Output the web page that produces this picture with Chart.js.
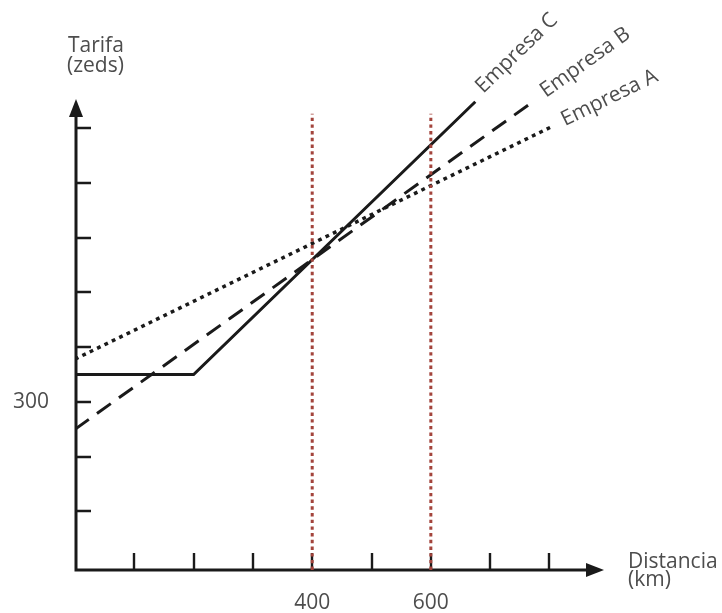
<!DOCTYPE html>
<html>
<head>
<meta charset="utf-8">
<script src="https://cdn.jsdelivr.net/npm/chart.js@4.4.1/dist/chart.umd.min.js"></script>
<style>
html,body{margin:0;padding:0;background:#fff;}
#wrap{width:722px;height:613px;position:relative;}
</style>
</head>
<body>
<div id="wrap"><canvas id="c"></canvas></div>
<script>
// ---- data ----
const companyNames = ['Empresa A', 'Empresa B', 'Empresa C'];
const distA = [0, 801];
const fareA = [378, 801];
const distB = [0, 776];
const fareB = [250, 851];
const distC = [0, 200, 675];
const fareC = [350, 350, 848];
const markerDistances = [400, 600];
const markerTop = 826;
const xTickValues = [100, 200, 300, 400, 500, 600, 700, 800];
const yTickValues = [100, 200, 300, 400, 500, 600, 700, 800];
const xTickLabels = [400, 600];
const yTickLabels = [300];
const xTitle = ['Distancia', '(km)'];
const yTitle = ['Tarifa', '(zeds)'];

// ---- scale extents ----
const X_MIN = 0, X_MAX = 892, Y_MIN = -7, Y_MAX = 853;

const FONT = '"Open Sans", "DejaVu Sans", sans-serif';
const FSIZE = 21;
const TEXT = '#4d4d4d';
const INK = '#1a1a1a';
const RED = '#a3443c';

const pts = (xs, ys) => xs.map((v, i) => ({x: v, y: ys[i]}));

const markerSets = markerDistances.map(d => ({
  label: 'marker ' + d,
  data: [{x: d, y: Y_MIN}, {x: d, y: markerTop}],
  borderColor: RED, borderWidth: 3, borderDash: [3.4, 3.3],
  pointRadius: 0, fill: false, showLine: true, borderCapStyle: 'butt'
}));

const seriesSets = [
  {label: companyNames[0], data: pts(distA, fareA), borderColor: INK, borderWidth: 3.5,
   borderDash: [3.8, 4.4], labelGap: 14, labelOff: 5.5},
  {label: companyNames[1], data: pts(distB, fareB), borderColor: INK, borderWidth: 3,
   borderDash: [17, 10], labelGap: 10, labelOff: 4.6},
  {label: companyNames[2], data: pts(distC, fareC), borderColor: INK, borderWidth: 3,
   borderDash: [], labelGap: 11, labelOff: 0}
].map(s => Object.assign({pointRadius: 0, fill: false, showLine: true, tension: 0,
   borderCapStyle: 'butt', borderJoinStyle: 'miter'}, s));

const axesPlugin = {
  id: 'axesPlugin',
  beforeDatasetsDraw(chart) {
    const {ctx, scales: {x, y}} = chart;
    const x0 = x.getPixelForValue(X_MIN) + 1;
    const y0 = y.getPixelForValue(Y_MIN);
    const xEnd = x.getPixelForValue(X_MAX);
    const yEnd = y.getPixelForValue(Y_MAX);
    ctx.save();
    ctx.strokeStyle = INK; ctx.fillStyle = INK;
    ctx.lineWidth = 3; ctx.lineCap = 'butt';
    ctx.beginPath();
    ctx.moveTo(x0, y0 + 1.5); ctx.lineTo(x0, yEnd + 14);
    ctx.moveTo(x0 - 1.5, y0); ctx.lineTo(xEnd - 14, y0);
    ctx.stroke();
    // arrows
    ctx.beginPath();
    ctx.moveTo(x0, yEnd); ctx.lineTo(x0 - 7, yEnd + 18); ctx.lineTo(x0 + 7, yEnd + 18); ctx.closePath();
    ctx.fill();
    ctx.beginPath();
    ctx.moveTo(xEnd, y0); ctx.lineTo(xEnd - 18, y0 - 7); ctx.lineTo(xEnd - 18, y0 + 7); ctx.closePath();
    ctx.fill();
    // ticks
    ctx.lineWidth = 2.4;
    ctx.beginPath();
    xTickValues.forEach(v => { const p = Math.round(x.getPixelForValue(v)); ctx.moveTo(p, y0); ctx.lineTo(p, y0 - 17); });
    yTickValues.forEach(v => { const p = Math.round(y.getPixelForValue(v)); ctx.moveTo(x0, p); ctx.lineTo(x0 + 15, p); });
    ctx.stroke();
    ctx.restore();
  },
  afterDatasetsDraw(chart) {
    const {ctx, scales: {x, y}} = chart;
    ctx.save();
    ctx.fillStyle = TEXT;
    ctx.font = FSIZE + 'px ' + FONT;
    ctx.textAlign = 'left'; ctx.textBaseline = 'alphabetic';
    ctx.fillText(yTitle[0], 68, 52);
    ctx.fillText(yTitle[1], 67, 72);
    ctx.fillText(xTitle[0], 628, 568);
    ctx.fillText(xTitle[1], 628, 586);
    // series labels along the direction of each line's last segment
    chart.data.datasets.forEach((ds) => {
      if (ds.labelGap === undefined) return;
      const n = ds.data.length;
      const p1 = {x: x.getPixelForValue(ds.data[n - 2].x), y: y.getPixelForValue(ds.data[n - 2].y)};
      const p2 = {x: x.getPixelForValue(ds.data[n - 1].x), y: y.getPixelForValue(ds.data[n - 1].y)};
      const ang = Math.atan2(p2.y - p1.y, p2.x - p1.x);
      const dx = Math.cos(ang), dy = Math.sin(ang);
      const nx = -dy, ny = dx;
      const ax = p2.x + dx * ds.labelGap + nx * ds.labelOff;
      const ay = p2.y + dy * ds.labelGap + ny * ds.labelOff;
      ctx.save();
      ctx.translate(ax, ay);
      ctx.rotate(ang);
      ctx.fillText(ds.label, 0, 0);
      ctx.restore();
    });
    ctx.restore();
  }
};

new Chart(document.getElementById('c'), {
  type: 'line',
  data: {datasets: markerSets.concat(seriesSets)},
  options: {
    responsive: true, maintainAspectRatio: false, animation: false,
    events: [],
    layout: {padding: {left: 0, right: 118, top: 99, bottom: 0}},
    plugins: {legend: {display: false}, tooltip: {enabled: false}, title: {display: false}},
    elements: {line: {tension: 0}},
    scales: {
      x: {
        type: 'linear', min: X_MIN, max: X_MAX,
        grid: {display: false, drawTicks: false, tickLength: 0}, border: {display: false},
        afterBuildTicks: s => { s.ticks = xTickLabels.map(v => ({value: v})); },
        afterFit: s => { s.height = 43; },
        ticks: {padding: 20, color: TEXT, font: {family: FONT, size: FSIZE}, maxRotation: 0, autoSkip: false,
                callback: v => String(v)}
      },
      y: {
        type: 'linear', min: Y_MIN, max: Y_MAX,
        grid: {display: false, drawTicks: false, tickLength: 0}, border: {display: false},
        afterBuildTicks: s => { s.ticks = yTickLabels.map(v => ({value: v})); },
        afterFit: s => { s.width = 75; },
        ticks: {padding: 26, color: TEXT, font: {family: FONT, size: FSIZE}, autoSkip: false,
                callback: v => String(v)}
      }
    }
  },
  plugins: [axesPlugin]
});
</script>
</body>
</html>
